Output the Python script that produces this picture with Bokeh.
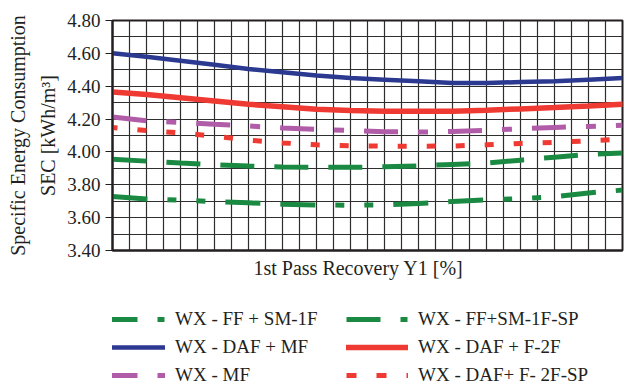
from bokeh.plotting import figure
from bokeh.layouts import column
from bokeh.models import FixedTicker, Legend, LegendItem, Title, Range1d, NumeralTickFormatter
from bokeh.embed import file_html
from bokeh.resources import INLINE

# ---- data ----
recovery = [0, 2, 4, 6, 8, 10, 12, 14, 16, 18, 20, 22, 24, 26, 28, 30]
wx_ff_sm_1f = [3.955, 3.944, 3.932, 3.922, 3.914, 3.908, 3.906, 3.906, 3.910, 3.915,
               3.924, 3.932, 3.950, 3.968, 3.985, 3.993]
wx_ff_sm_1f_sp = [3.728, 3.714, 3.706, 3.698, 3.690, 3.682, 3.677, 3.676, 3.677, 3.686,
                  3.699, 3.708, 3.716, 3.728, 3.750, 3.768]
wx_daf_mf = [4.600, 4.580, 4.555, 4.530, 4.505, 4.485, 4.465, 4.450, 4.440, 4.430,
             4.420, 4.420, 4.425, 4.430, 4.440, 4.450]
wx_daf_f_2f = [4.365, 4.350, 4.330, 4.310, 4.290, 4.275, 4.260, 4.252, 4.248, 4.247,
               4.248, 4.254, 4.262, 4.270, 4.279, 4.290]
wx_mf = [4.213, 4.190, 4.180, 4.168, 4.158, 4.146, 4.137, 4.130, 4.123, 4.121,
         4.124, 4.132, 4.141, 4.149, 4.155, 4.163]
wx_daf_f_2f_sp = [4.149, 4.130, 4.116, 4.096, 4.072, 4.055, 4.043, 4.038, 4.035, 4.035,
                  4.036, 4.043, 4.052, 4.058, 4.068, 4.078]

series_labels = ["WX - FF + SM-1F", "WX - DAF + MF", "WX - MF",
                 "WX - FF+SM-1F-SP", "WX - DAF + F-2F", "WX - DAF+ F- 2F-SP"]

y_ticks = [3.4, 3.6, 3.8, 4.0, 4.2, 4.4, 4.6, 4.8]
y_grid = [3.4 + 0.1 * k for k in range(15)]
x_grid = list(range(0, 31))

FONT = "Liberation Serif"
TXT = "#231f20"
GREEN = "#1a8a42"
BLUE = "#2b3990"
RED = "#ee3a32"
PURPLE = "#b05ca8"

STYLES = {
    "WX - FF + SM-1F": dict(line_color=GREEN, line_width=5, line_dash="34 20"),
    "WX - FF+SM-1F-SP": dict(line_color=GREEN, line_width=5, line_dash="35 20 9 20 9 20 35 20"),
    "WX - DAF + MF": dict(line_color=BLUE, line_width=4.5),
    "WX - DAF + F-2F": dict(line_color=RED, line_width=5.5, line_cap="round"),
    "WX - MF": dict(line_color=PURPLE, line_width=5, line_dash="34 20 10 20"),
    "WX - DAF+ F- 2F-SP": dict(line_color=RED, line_width=5, line_dash="9 20", line_dash_offset=4),
}
LEGEND_STYLES = dict(STYLES)
LEGEND_STYLES["WX - FF + SM-1F"] = dict(line_color=GREEN, line_width=5, line_dash="34 20 7 20")
LEGEND_STYLES["WX - FF+SM-1F-SP"] = dict(line_color=GREEN, line_width=5, line_dash="34 20 7 20")
LEGEND_STYLES["WX - DAF+ F- 2F-SP"] = dict(line_color=RED, line_width=5, line_dash="10 20")

values = {
    "WX - FF + SM-1F": wx_ff_sm_1f,
    "WX - FF+SM-1F-SP": wx_ff_sm_1f_sp,
    "WX - DAF + MF": wx_daf_mf,
    "WX - DAF + F-2F": wx_daf_f_2f,
    "WX - MF": wx_mf,
    "WX - DAF+ F- 2F-SP": wx_daf_f_2f_sp,
}

p = figure(width=630, height=295, output_backend="svg", toolbar_location=None,
           x_range=Range1d(0, 30), y_range=Range1d(3.4, 4.8),
           min_border_left=112, min_border_right=8, min_border_top=20, min_border_bottom=45)

p.background_fill_color = "white"
p.border_fill_color = "white"
p.outline_line_color = "#231f20"
p.outline_line_width = 2

# grids
p.xgrid.ticker = FixedTicker(ticks=x_grid)
p.ygrid.ticker = FixedTicker(ticks=y_grid)
for g in (p.xgrid[0], p.ygrid[0]):
    g.grid_line_color = "#2e2e2e"
    g.grid_line_width = 1.2
    g.grid_line_alpha = 1.0

# y axis
p.yaxis.ticker = FixedTicker(ticks=y_ticks)
p.yaxis.formatter = NumeralTickFormatter(format="0.00")
p.yaxis.major_label_text_font = FONT
p.yaxis.major_label_text_font_size = "19px"
p.yaxis.major_label_text_color = TXT
p.yaxis.major_tick_out = 7
p.yaxis.major_tick_in = 0
p.yaxis.minor_tick_line_color = None
p.yaxis.axis_line_color = "#231f20"
p.yaxis.axis_line_width = 2
p.yaxis.major_tick_line_color = "#231f20"
p.yaxis.major_label_standoff = 5

# x axis (no tick labels)
p.xaxis.ticker = FixedTicker(ticks=[])
p.xaxis.major_tick_line_color = None
p.xaxis.minor_tick_line_color = None
p.xaxis.axis_line_color = "#231f20"
p.xaxis.axis_line_width = 2
p.xaxis.major_label_standoff = 0

xt = Title(text="1st Pass Recovery Y1 [%]", align="left", offset=141, text_font=FONT,
           text_font_size="20px", text_font_style="normal", text_color=TXT, standoff=8)
p.add_layout(xt, "below")

# y title (two lines)
t1 = Title(text="SEC [kWh/m³]", align="center", text_font=FONT, text_font_size="20px",
           text_font_style="normal", text_color=TXT, standoff=12)
t2 = Title(text="Specific Energy Consumption", align="center", text_font=FONT,
           text_font_size="20px", text_font_style="normal", text_color=TXT, standoff=0)
p.add_layout(t1, "left")
p.add_layout(t2, "left")

for name in ["WX - FF + SM-1F", "WX - FF+SM-1F-SP", "WX - DAF + MF",
             "WX - DAF + F-2F", "WX - MF", "WX - DAF+ F- 2F-SP"]:
    p.line(recovery, values[name], **STYLES[name])

# ---- legend panel (series redrawn out of view, only used for legend keys) ----
lg = figure(width=630, height=90, output_backend="svg", toolbar_location=None,
            x_range=Range1d(0, 1), y_range=Range1d(0, 1),
            x_axis_location=None, y_axis_location=None,
            min_border=0, min_border_left=0, min_border_right=0,
            min_border_top=0, min_border_bottom=0)
lg.grid.visible = False
lg.outline_line_color = None
lg.background_fill_color = "white"
lg.border_fill_color = "white"

items = []
for name in series_labels:
    r = lg.line(recovery, values[name], **LEGEND_STYLES[name])
    items.append(LegendItem(label=name, renderers=[r]))

legend = Legend(items=items, ncols=2)
legend.location = (-9, -1)
legend.label_text_font = FONT
legend.label_text_font_size = "19px"
legend.label_text_color = TXT
legend.glyph_width = 62
legend.glyph_height = 20
legend.label_height = 20
legend.label_width = 165
legend.label_standoff = 10
legend.spacing = 6
legend.padding = 0
legend.margin = 0
legend.border_line_color = None
legend.background_fill_alpha = 0
lg.add_layout(legend, "center")

layout = column(p, lg, spacing=0)
open("out.html", "w").write(file_html(layout, INLINE))
